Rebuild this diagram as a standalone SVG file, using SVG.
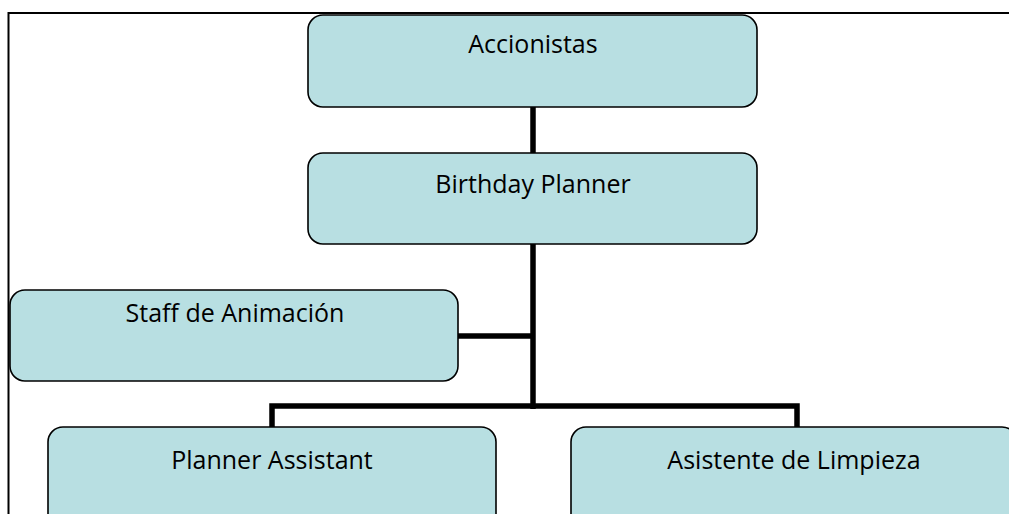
<svg xmlns="http://www.w3.org/2000/svg" width="1009" height="514" viewBox="0 0 1009 514">
<style>
.box{fill:#b8dfe2;stroke:#000;stroke-width:1.6}
.lbl{font-family:"Open Sans","Liberation Sans",sans-serif;font-size:25px;fill:#000;text-anchor:middle}
.conn{fill:none;stroke:#000;stroke-width:5.5}
</style>
<rect x="8.5" y="13" width="1020" height="520" fill="#fff" stroke="#000" stroke-width="2"/>
<g id="connectors">
<line class="conn" x1="533" y1="107" x2="533" y2="153"/>
<line class="conn" x1="533" y1="244" x2="533" y2="409"/>
<line class="conn" x1="458" y1="336" x2="533" y2="336"/>
<polyline class="conn" points="272,428 272,406 797,406 797,428"/>
</g>
<g id="node-accionistas">
<rect class="box" x="308" y="15" width="449" height="92" rx="15"/>
<text class="lbl" x="533" y="53">Accionistas</text>
</g>
<g id="node-birthday-planner">
<rect class="box" x="308" y="153" width="449" height="91" rx="15"/>
<text class="lbl" x="533" y="193">Birthday Planner</text>
</g>
<g id="node-staff">
<rect class="box" x="10" y="290" width="448" height="91" rx="15"/>
<text class="lbl" x="235" y="322">Staff de Animación</text>
</g>
<g id="node-planner-assistant">
<rect class="box" x="48" y="427" width="448" height="110" rx="15"/>
<text class="lbl" x="272" y="469">Planner Assistant</text>
</g>
<g id="node-asistente-limpieza">
<rect class="box" x="571" y="427" width="446" height="110" rx="15"/>
<text class="lbl" x="794" y="469">Asistente de Limpieza</text>
</g>
</svg>
